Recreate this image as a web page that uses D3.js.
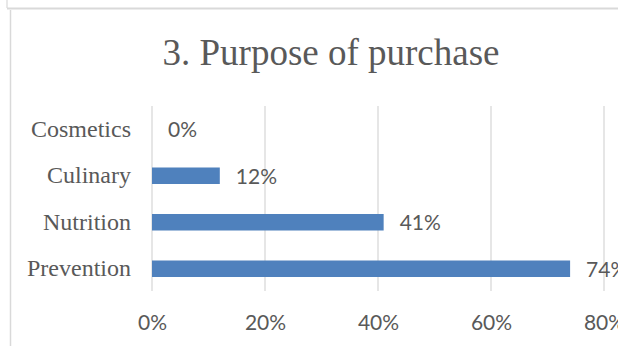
<!DOCTYPE html>
<html>
<head>
<meta charset="utf-8">
<script src="https://cdn.jsdelivr.net/npm/d3@7"></script>
<style>
  html, body { margin: 0; padding: 0; background: #ffffff; overflow: hidden; }
  svg { display: block; }
</style>
</head>
<body>
<svg id="chart" width="618" height="346"></svg>
<script>
// Purpose of purchase — share of respondents per category
const categories = ["Cosmetics", "Culinary", "Nutrition", "Prevention"];
const shares = [0, 12, 41, 74];            // percent
const tickValues = [0, 20, 40, 60, 80];   // percent
const titleText = "3. Purpose of purchase";

const svg = d3.select("#chart");
const W = 618, H = 346;

const textColor = "#595959";
const gridColor = "#d9d9d9";
const barColor = "#4f81bd";

// frame lines of the chart area
svg.append("line").attr("x1", 7).attr("x2", W).attr("y1", 8.5).attr("y2", 8.5)
  .attr("stroke", gridColor).attr("stroke-width", 2);
svg.append("line").attr("x1", 7).attr("x2", 7).attr("y1", 0).attr("y2", 8)
  .attr("stroke", gridColor).attr("stroke-width", 1.2);
svg.append("line").attr("x1", 10.5).attr("x2", 10.5).attr("y1", 10).attr("y2", H)
  .attr("stroke", gridColor).attr("stroke-width", 1.5);

// scales
const x = d3.scaleLinear().domain([0, 80]).range([152, 604]);
const y = d3.scaleBand().domain(categories).range([106, 292])
  .paddingInner(0.645).paddingOuter(0.3225);

// title
svg.append("text")
  .attr("x", 331).attr("y", 65)
  .attr("text-anchor", "middle")
  .attr("font-family", "'Liberation Serif', 'Times New Roman', serif")
  .attr("font-size", 37)
  .attr("fill", textColor)
  .text(titleText);

// vertical gridlines
svg.append("g").selectAll("line")
  .data(tickValues)
  .join("line")
  .attr("x1", d => x(d)).attr("x2", d => x(d))
  .attr("y1", 106).attr("y2", 291)
  .attr("stroke", gridColor).attr("stroke-width", 1.3);

// bottom axis labels
const axis = d3.axisBottom(x).tickValues(tickValues).tickSize(0).tickFormat(d => d + "%");
const gx = svg.append("g").attr("transform", "translate(0,291)").call(axis);
gx.select(".domain").remove();
gx.selectAll("text")
  .attr("y", 39).attr("dy", null)
  .attr("font-family", "Lato, 'Open Sans', sans-serif")
  .attr("font-size", 21)
  .attr("fill", textColor);

// category labels
svg.append("g").selectAll("text")
  .data(categories)
  .join("text")
  .attr("x", 131)
  .attr("y", d => y(d) + y.bandwidth() / 2 + 7.5)
  .attr("text-anchor", "end")
  .attr("font-family", "'Liberation Serif', 'Times New Roman', serif")
  .attr("font-size", 24)
  .attr("fill", textColor)
  .text(d => d);

// bars
svg.append("g").selectAll("rect")
  .data(categories.map((c, i) => ({ c, v: shares[i] })))
  .join("rect")
  .attr("x", x(0))
  .attr("y", d => y(d.c))
  .attr("width", d => x(d.v) - x(0))
  .attr("height", y.bandwidth())
  .attr("fill", barColor);

// value labels
svg.append("g").selectAll("text")
  .data(categories.map((c, i) => ({ c, v: shares[i] })))
  .join("text")
  .attr("x", d => x(d.v) + 16)
  .attr("y", d => y(d.c) + y.bandwidth() / 2 + 8)
  .attr("font-family", "Lato, 'Open Sans', sans-serif")
  .attr("font-size", 21)
  .attr("fill", textColor)
  .text(d => d.v + "%");
</script>
</body>
</html>
